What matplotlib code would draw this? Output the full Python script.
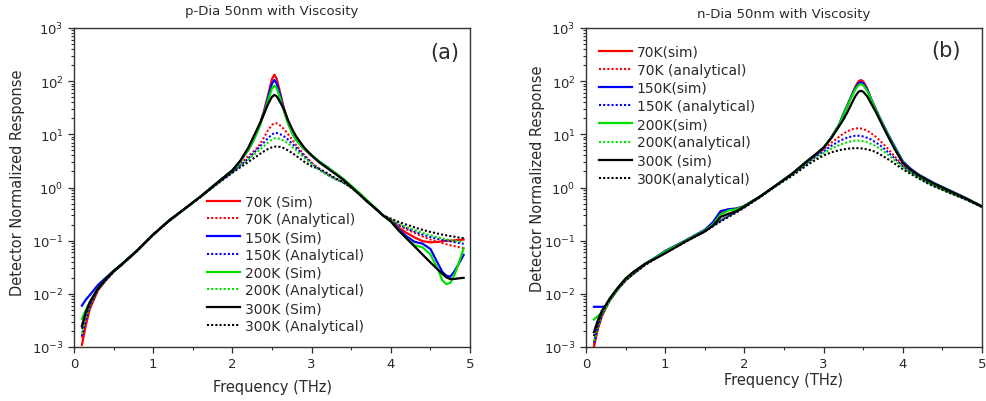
import matplotlib
matplotlib.use("Agg")
import matplotlib.pyplot as plt
from matplotlib.ticker import FixedLocator, MultipleLocator, NullFormatter, LogFormatterSciNotation

# ---------------- panel (a): p-Dia ----------------
freq_a = [0.1, 0.15, 0.2, 0.3, 0.4, 0.5, 0.6, 0.8, 1.0, 1.2, 1.4, 1.6, 1.8,
          2.0, 2.1, 2.2, 2.25, 2.3, 2.35, 2.4, 2.45, 2.5, 2.53, 2.56, 2.6, 2.65,
          2.7, 2.75, 2.8, 2.9, 3.0, 3.1, 3.2, 3.3, 3.4, 3.5, 3.6, 3.7, 3.8, 3.9,
          4.0, 4.1, 4.2, 4.3, 4.4, 4.5, 4.6, 4.65, 4.7, 4.75, 4.8, 4.85, 4.92]

sim70_a = [1.1e-3, 2.6e-3, 5.2e-3, 0.0115, 0.018, 0.026, 0.035, 0.066, 0.13, 0.24, 0.4, 0.68, 1.2,
           2.1, 3.1, 5.2, 7.1, 10.3, 16, 28, 54, 110, 132, 110, 63, 31,
           18, 11.5, 8.3, 5.4, 4.0, 3.0, 2.4, 1.85, 1.42, 1.05, 0.76, 0.55, 0.41, 0.3,
           0.245, 0.175, 0.14, 0.115, 0.098, 0.093, 0.095, 0.097, 0.1, 0.1, 0.101, 0.103, 0.105]
ana70_a = [1.5e-3, 3e-3, 5.5e-3, 0.0118, 0.018, 0.026, 0.035, 0.065, 0.13, 0.235, 0.4, 0.67, 1.15,
           1.95, 2.7, 3.9, 4.5, 5.3, 6.6, 8.8, 12, 15, 16.2, 16.1, 14.8, 12.6,
           10.2, 8.1, 6.4, 4.2, 2.95, 2.2, 1.75, 1.45, 1.25, 1.0, 0.76, 0.55, 0.41, 0.3,
           0.24, 0.195, 0.163, 0.14, 0.12, 0.105, 0.095, 0.09, 0.086, 0.082, 0.079, 0.076, 0.072]
sim150_a = [6e-3, 7.8e-3, 9.5e-3, 0.0145, 0.02, 0.027, 0.035, 0.065, 0.13, 0.235, 0.4, 0.68, 1.2,
            2.1, 3.1, 5.1, 7.0, 10.1, 15.5, 26, 49, 90, 105, 90, 56, 29.5,
            17.2, 11.2, 8.1, 5.4, 4.05, 3.05, 2.4, 1.85, 1.42, 1.05, 0.76, 0.55, 0.41, 0.3,
            0.235, 0.165, 0.12, 0.095, 0.088, 0.07, 0.036, 0.026, 0.022, 0.021, 0.026, 0.035, 0.054]
ana150_a = [1.6e-3, 3.2e-3, 5.8e-3, 0.012, 0.018, 0.026, 0.035, 0.065, 0.13, 0.235, 0.4, 0.67, 1.15,
            1.95, 2.6, 3.5, 4.2, 5.0, 6.0, 7.1, 8.5, 9.9, 10.6, 10.6, 10.1, 9.2,
            8.0, 6.8, 5.7, 4.0, 2.85, 2.15, 1.75, 1.45, 1.25, 1.0, 0.76, 0.55, 0.41, 0.3,
            0.245, 0.2, 0.172, 0.148, 0.13, 0.117, 0.107, 0.103, 0.1, 0.097, 0.094, 0.091, 0.087]
sim200_a = [3.4e-3, 5e-3, 7e-3, 0.0125, 0.019, 0.027, 0.036, 0.066, 0.13, 0.24, 0.4, 0.68, 1.2,
            2.1, 3.1, 5.1, 6.9, 9.9, 14.9, 24.6, 43.5, 73, 82, 73, 49, 27.3,
            16.4, 10.9, 8.0, 5.4, 4.05, 3.05, 2.4, 1.88, 1.45, 1.08, 0.8, 0.58, 0.42, 0.3,
            0.23, 0.155, 0.11, 0.082, 0.075, 0.055, 0.028, 0.018, 0.0153, 0.016, 0.022, 0.035, 0.072]
ana200_a = [1.8e-3, 3.6e-3, 6.2e-3, 0.012, 0.018, 0.026, 0.035, 0.065, 0.13, 0.235, 0.4, 0.67, 1.15,
            1.95, 2.55, 3.3, 3.9, 4.5, 5.2, 6.0, 7.0, 8.0, 8.4, 8.5, 8.2, 7.6,
            6.8, 5.9, 5.1, 3.7, 2.75, 2.1, 1.72, 1.43, 1.24, 1.0, 0.76, 0.55, 0.41, 0.3,
            0.25, 0.21, 0.18, 0.158, 0.14, 0.126, 0.115, 0.11, 0.106, 0.102, 0.1, 0.097, 0.093]
sim300_a = [2.5e-3, 4.5e-3, 7e-3, 0.0125, 0.019, 0.027, 0.036, 0.066, 0.13, 0.24, 0.4, 0.68, 1.2,
            2.1, 3.2, 5.6, 8.0, 11.5, 16.5, 24.5, 37, 51, 55, 51.8, 41, 29.9,
            18.8, 13, 9.4, 5.8, 4.0, 2.95, 2.3, 1.8, 1.4, 1.03, 0.75, 0.55, 0.41, 0.3,
            0.23, 0.155, 0.11, 0.078, 0.055, 0.039, 0.028, 0.024, 0.0205, 0.019, 0.019, 0.0195, 0.02]
ana300_a = [2.2e-3, 4.2e-3, 6.8e-3, 0.0122, 0.018, 0.026, 0.035, 0.065, 0.13, 0.235, 0.4, 0.67, 1.15,
            1.9, 2.4, 3.0, 3.4, 3.8, 4.3, 4.8, 5.3, 5.7, 5.85, 5.9, 5.8, 5.5,
            5.0, 4.5, 4.0, 3.1, 2.5, 2.25, 1.85, 1.5, 1.25, 1.0, 0.76, 0.55, 0.41, 0.3,
            0.26, 0.225, 0.2, 0.178, 0.16, 0.146, 0.135, 0.13, 0.126, 0.122, 0.119, 0.115, 0.111]

labels_a = ["70K (Sim)", "70K (Analytical)", "150K (Sim)", "150K (Analytical)",
            "200K (Sim)", "200K (Analytical)", "300K (Sim)", "300K (Analytical)"]

# ---------------- panel (b): n-Dia ----------------
freq_b = [0.1, 0.15, 0.2, 0.25, 0.3, 0.4, 0.5, 0.6, 0.75, 0.9, 1.0, 1.25, 1.5, 1.6, 1.7, 1.8, 1.9,
          2.0, 2.2, 2.4, 2.6, 2.7, 2.8, 2.9, 3.0, 3.1, 3.2, 3.25, 3.3, 3.35, 3.4, 3.44, 3.47,
          3.5, 3.55, 3.6, 3.65, 3.7, 3.75, 3.8, 3.9, 4.0, 4.1, 4.2, 4.3, 4.4, 4.6, 4.8, 5.0]

sim70_b = [1.0e-3, 2.2e-3, 3.8e-3, 5.4e-3, 7.6e-3, 0.0122, 0.018, 0.024, 0.036, 0.05, 0.062, 0.098, 0.152, 0.2, 0.33, 0.39, 0.4,
           0.45, 0.68, 1.1, 1.8, 2.4, 3.2, 4.2, 5.6, 8.8, 15.5, 24, 35, 52, 78, 99, 105,
           99, 73, 46, 31, 21, 14.5, 10.3, 5.4, 2.95, 2.15, 1.7, 1.4, 1.17, 0.85, 0.62, 0.44]
ana70_b = [1.1e-3, 2.3e-3, 3.9e-3, 5.4e-3, 7.5e-3, 0.012, 0.018, 0.024, 0.036, 0.05, 0.062, 0.097, 0.15, 0.19, 0.24, 0.29, 0.35,
           0.43, 0.67, 1.08, 1.75, 2.3, 3.05, 4.0, 5.2, 7.0, 9.1, 10.3, 11.4, 12.3, 12.9, 13, 12.9,
           12.5, 11.8, 10.5, 9.2, 7.9, 6.7, 5.6, 3.8, 2.6, 2.0, 1.6, 1.3, 1.1, 0.8, 0.6, 0.43]
sim150_b = [5.7e-3, 5.7e-3, 5.7e-3, 5.8e-3, 7.8e-3, 0.0125, 0.0185, 0.025, 0.037, 0.051, 0.064, 0.1, 0.16, 0.22, 0.36, 0.39, 0.4,
            0.45, 0.68, 1.1, 1.8, 2.4, 3.2, 4.2, 5.6, 8.9, 15.6, 24, 35, 52, 74, 91, 96,
            91, 70, 46, 32, 22, 15.5, 11, 5.8, 3.1, 2.25, 1.75, 1.45, 1.2, 0.87, 0.63, 0.44]
ana150_b = [1.2e-3, 2.4e-3, 4.0e-3, 5.5e-3, 7.5e-3, 0.012, 0.018, 0.024, 0.036, 0.05, 0.062, 0.097, 0.15, 0.19, 0.24, 0.29, 0.35,
            0.43, 0.67, 1.08, 1.75, 2.25, 2.95, 3.8, 4.8, 6.1, 7.5, 8.1, 8.7, 9.1, 9.4, 9.4, 9.3,
            9.1, 8.6, 8.0, 7.2, 6.4, 5.6, 4.8, 3.5, 2.5, 1.95, 1.57, 1.28, 1.08, 0.8, 0.6, 0.43]
sim200_b = [3.3e-3, 3.8e-3, 4.4e-3, 5.6e-3, 7.8e-3, 0.0125, 0.0185, 0.025, 0.037, 0.05, 0.062, 0.098, 0.155, 0.2, 0.31, 0.37, 0.39,
            0.45, 0.68, 1.1, 1.8, 2.4, 3.2, 4.2, 5.6, 8.8, 15.5, 23, 34, 50, 70, 84, 88,
            84, 66, 45, 31, 21.5, 15, 10.6, 5.5, 2.95, 2.15, 1.7, 1.4, 1.17, 0.85, 0.62, 0.44]
ana200_b = [1.3e-3, 2.5e-3, 4.1e-3, 5.6e-3, 7.6e-3, 0.012, 0.018, 0.024, 0.036, 0.05, 0.062, 0.097, 0.15, 0.19, 0.24, 0.29, 0.35,
            0.43, 0.67, 1.08, 1.7, 2.2, 2.8, 3.5, 4.4, 5.4, 6.3, 6.7, 7.1, 7.4, 7.6, 7.6, 7.55,
            7.4, 7.1, 6.6, 6.1, 5.5, 4.9, 4.3, 3.2, 2.4, 1.9, 1.54, 1.26, 1.06, 0.79, 0.6, 0.43]
sim300_b = [1.9e-3, 3.2e-3, 4.8e-3, 6.2e-3, 8.2e-3, 0.013, 0.0195, 0.026, 0.037, 0.048, 0.058, 0.095, 0.15, 0.19, 0.28, 0.32, 0.36,
            0.44, 0.68, 1.1, 1.8, 2.4, 3.2, 4.2, 5.6, 8.6, 14.5, 19, 26, 37, 52, 63, 66,
            63, 52, 38, 28, 20, 14, 10, 5.2, 2.9, 2.15, 1.7, 1.4, 1.17, 0.85, 0.62, 0.44]
ana300_b = [1.6e-3, 2.8e-3, 4.4e-3, 5.9e-3, 7.9e-3, 0.0125, 0.018, 0.024, 0.035, 0.048, 0.058, 0.094, 0.148, 0.185, 0.23, 0.28, 0.34,
            0.42, 0.66, 1.07, 1.65, 2.1, 2.7, 3.3, 4.0, 4.6, 5.05, 5.2, 5.35, 5.45, 5.5, 5.5, 5.45,
            5.4, 5.2, 5.0, 4.7, 4.3, 3.9, 3.5, 2.8, 2.2, 1.8, 1.48, 1.23, 1.04, 0.78, 0.59, 0.43]

labels_b = ["70K(sim)", "70K (analytical)", "150K(sim)", "150K (analytical)",
            "200K(sim)", "200K(analytical)", "300K (sim)", "300K(analytical)"]

decades = [1e-3, 1e-2, 1e-1, 1e0, 1e1, 1e2, 1e3]

colors = ['#ff0000', '#ff0000', '#0000ff', '#0000ff', '#00e000', '#00e000', '#000000', '#000000']
dots = (0, (1, 1))
txt = '#2a2a2a'

fig = plt.figure(figsize=(9.86, 4.02), dpi=100)
axA = fig.add_axes([74/986, 1 - 348/402, 396/986, 319/402])
axB = fig.add_axes([586/986, 1 - 348/402, 396/986, 319/402])

series_a = [sim70_a, ana70_a, sim150_a, ana150_a, sim200_a, ana200_a, sim300_a, ana300_a]
series_b = [sim70_b, ana70_b, sim150_b, ana150_b, sim200_b, ana200_b, sim300_b, ana300_b]

minor_y = [d * k for d in decades[:-1] for k in range(2, 10)]

for ax, freq, series, labels in [(axA, freq_a, series_a, labels_a), (axB, freq_b, series_b, labels_b)]:
    for i, (ys, lab) in enumerate(zip(series, labels)):
        if i % 2 == 0:
            ax.plot(freq, ys, color=colors[i], lw=1.6, label=lab)
        else:
            ax.plot(freq, ys, color=colors[i], lw=1.5, linestyle=dots, label=lab)
    ax.set_yscale('log')
    ax.set_xlim(0, 5)
    ax.set_ylim(1e-3, 1e3)
    ax.xaxis.set_major_locator(MultipleLocator(1))
    ax.xaxis.set_minor_locator(MultipleLocator(0.5))
    ax.yaxis.set_major_locator(FixedLocator(decades))
    ax.yaxis.set_major_formatter(LogFormatterSciNotation())
    ax.yaxis.set_minor_locator(FixedLocator(minor_y))
    ax.yaxis.set_minor_formatter(NullFormatter())
    ax.tick_params(which='major', direction='out', length=4, width=0.9, labelsize=9.5, colors=txt)
    ax.tick_params(which='minor', direction='out', length=2.2, width=0.8, colors=txt)
    for s in ax.spines.values():
        s.set_color('#333333')
        s.set_linewidth(1.0)

axA.set_title("p-Dia 50nm with Viscosity", fontsize=9.5, color=txt, pad=10)
axB.set_title("n-Dia 50nm with Viscosity", fontsize=9.5, color=txt, pad=8)

# axis labels placed in figure coordinates
fig.text(0.276, 0.037, "Frequency (THz)", fontsize=10.5, color=txt, ha='center', va='center')
fig.text(0.7945, 0.053, "Frequency (THz)", fontsize=10.5, color=txt, ha='center', va='center')
fig.text(0.0176, 0.546, "Detector Normalized Response", fontsize=10.5, color=txt,
         rotation=90, ha='center', va='center')
fig.text(0.5453, 0.556, "Detector Normalized Response", fontsize=10.5, color=txt,
         rotation=90, ha='center', va='center')

axA.text(0.935, 0.925, "(a)", transform=axA.transAxes, fontsize=15, ha='center', va='center', color=txt)
axB.text(0.91, 0.93, "(b)", transform=axB.transAxes, fontsize=15, ha='center', va='center', color=txt)

legA = axA.legend(loc='upper left', bbox_to_anchor=(0.336, 0.478), frameon=False, fontsize=10,
                  handlelength=2.4, handletextpad=0.3, labelspacing=0.27, borderpad=0, borderaxespad=0)
legB = axB.legend(loc='upper left', bbox_to_anchor=(0.033, 0.948), frameon=False, fontsize=10,
                  handlelength=2.4, handletextpad=0.3, labelspacing=0.3, borderpad=0, borderaxespad=0)
for leg in (legA, legB):
    for t in leg.get_texts():
        t.set_color(txt)

fig.savefig("out.png", dpi=100)
